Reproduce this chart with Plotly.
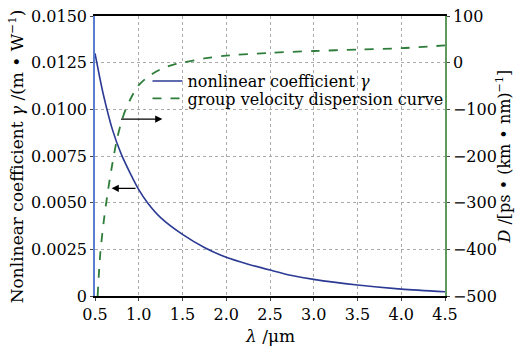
import plotly.graph_objects as go

# gamma (nonlinear coefficient)
lam_g = [0.5, 0.55, 0.6, 0.7, 0.8, 0.9, 1.0, 1.1, 1.25, 1.5, 1.75, 2.0, 2.25, 2.5, 2.75, 3.0, 3.5, 4.0, 4.5]
gamma = [0.0130, 0.0118, 0.0107, 0.0089, 0.0076, 0.0066, 0.0057, 0.0050, 0.0042, 0.0033, 0.0026,
         0.00207, 0.0017, 0.00139, 0.0011, 0.00089, 0.00059, 0.00037, 0.00023]

# D (group velocity dispersion)
lam_d = [0.53, 0.56, 0.6, 0.65, 0.7, 0.75, 0.8, 0.85, 0.9, 0.95, 1.0, 1.1, 1.2, 1.3, 1.4, 1.5,
         1.75, 2.0, 2.5, 3.0, 3.5, 4.0, 4.5]
disp = [-500, -410, -340, -272, -215, -165, -128, -100, -80, -62, -48, -31, -19, -10, -4, 0,
        9, 15, 21, 25, 28, 31, 37]

x_ticks = [0.5, 1.0, 1.5, 2.0, 2.5, 3.0, 3.5, 4.0, 4.5]
x_labels = ["0.5", "1.0", "1.5", "2.0", "2.5", "3.0", "3.5", "4.0", "4.5"]
y_ticks = [0, 0.0025, 0.005, 0.0075, 0.01, 0.0125, 0.015]
y_labels = ["0", "0.0025", "0.0050", "0.0075", "0.0100", "0.0125", "0.0150"]
y2_ticks = [-500, -400, -300, -200, -100, 0, 100]
y2_labels = ["−500", "−400", "−300", "−200", "−100", "0", "100"]

FONT = "DejaVu Serif"

fig = go.Figure()
fig.add_trace(go.Scatter(x=lam_g, y=gamma, mode="lines",
                         line=dict(color="#2b3a94", width=1.6, shape="spline", smoothing=0.8),
                         name="nonlinear coefficient <i>γ</i>", legend="legend"))
fig.add_trace(go.Scatter(x=lam_d, y=disp, mode="lines", yaxis="y2",
                         line=dict(color="#2e7d3a", width=1.8, dash="dash", shape="spline", smoothing=0.8),
                         name="group velocity dispersion curve", legend="legend2"))

fig.add_annotation(x=1.27, y=0.00948, ax=0.78, ay=0.00948, xref="x", yref="y", axref="x", ayref="y",
                   text="", showarrow=True, arrowhead=2, arrowsize=1.2, arrowwidth=1.2, arrowcolor="black")
fig.add_annotation(x=0.69, y=0.00577, ax=0.98, ay=0.00577, xref="x", yref="y", axref="x", ayref="y",
                   text="", showarrow=True, arrowhead=2, arrowsize=1.2, arrowwidth=1.2, arrowcolor="black")

# axis titles as annotations
fig.add_annotation(x=0.5, y=-0.143, xref="paper", yref="paper", text="<i>λ</i> /μm", showarrow=False,
                   font=dict(size=17), xanchor="center", yanchor="middle")
fig.add_annotation(x=-0.225, y=0.5, xref="paper", yref="paper",
                   text="Nonlinear coefficient <i>γ</i> /(m • W<sup>−1</sup>)", showarrow=False,
                   textangle=-90, font=dict(size=17), xanchor="center", yanchor="middle")
fig.add_annotation(x=1.167, y=0.5, xref="paper", yref="paper",
                   text="<i>D</i> /[ps • (km • nm)<sup>−1</sup>]", showarrow=False,
                   textangle=-90, font=dict(size=16), xanchor="center", yanchor="middle")

leg = dict(xanchor="left", yanchor="top", bgcolor="rgba(0,0,0,0)", font=dict(family=FONT, size=16),
           itemwidth=30)
fig.update_layout(
    width=520, height=347,
    margin=dict(l=95, r=75, t=16, b=51),
    paper_bgcolor="white", plot_bgcolor="white",
    font=dict(family=FONT, size=16, color="black"),
    showlegend=True,
    legend=dict(x=0.150, y=0.828, **leg),
    legend2=dict(x=0.150, y=0.766, **leg),
    xaxis=dict(range=[0.5, 4.5], tickvals=x_ticks, ticktext=x_labels, showline=True, linecolor="black",
               linewidth=1.5, mirror=True, ticks="outside", ticklen=3, showgrid=True, gridcolor="#aaaaaa",
               griddash="dot", gridwidth=1, zeroline=False, automargin=False),
    yaxis=dict(range=[0, 0.015], tickvals=y_ticks, ticktext=y_labels, showline=True, linecolor="#5b7fd0",
               linewidth=1.5, ticks="outside", ticklen=3, showgrid=True, gridcolor="#aaaaaa", griddash="dot",
               gridwidth=1, zeroline=False, automargin=False),
    yaxis2=dict(range=[-500, 100], tickvals=y2_ticks, ticktext=y2_labels, overlaying="y", side="right",
                showline=True, linecolor="#5e9a5e", linewidth=1.5, ticks="outside", ticklen=3, showgrid=False,
                zeroline=False, automargin=False),
)

fig.write_html("out.html", config={"displayModeBar": False},
               post_script="document.body.style.margin='0px';document.body.style.overflow='hidden';")
